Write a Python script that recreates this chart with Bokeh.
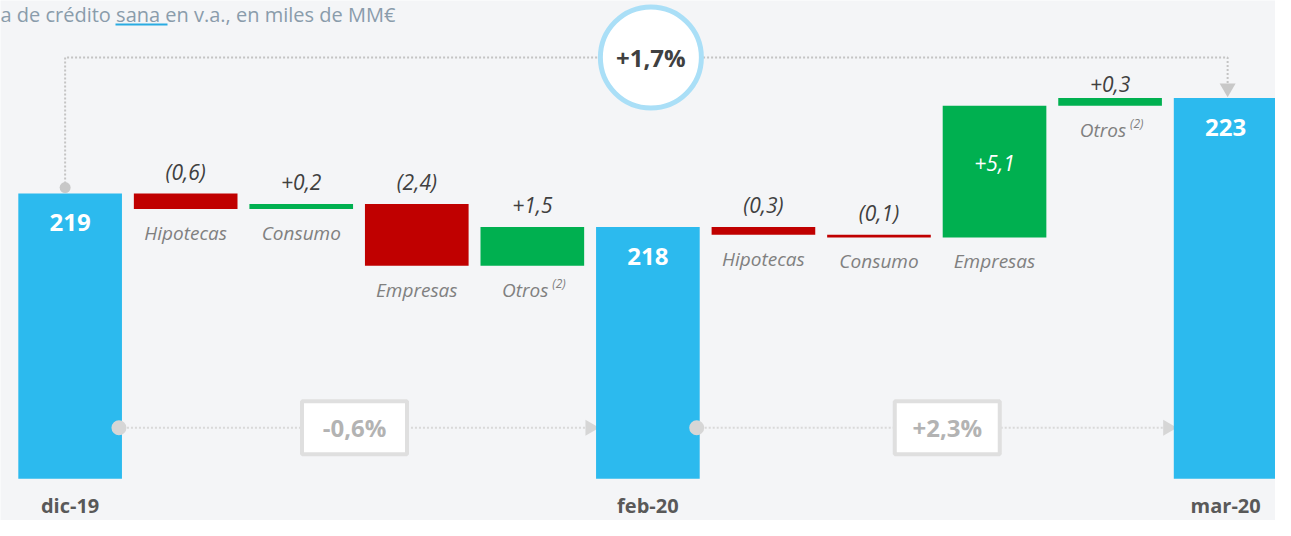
import math
from bokeh.plotting import figure
from bokeh.models import Range1d
from bokeh.core.properties import value
from bokeh.embed import file_html
from bokeh.resources import INLINE

# ---------------- data ----------------
categories = ["dic-19", "Hipotecas", "Consumo", "Empresas", "Otros",
              "feb-20", "Hipotecas", "Consumo", "Empresas", "Otros", "mar-20"]
kinds = ["total", "delta", "delta", "delta", "delta", "total",
         "delta", "delta", "delta", "delta", "total"]
start_value = 219.0
deltas = [-0.6, 0.2, -2.4, 1.5, -0.3, -0.1, 5.1, 0.3]
total_labels = ["219", "218", "223"]
period_growth = ["-0,6%", "+2,3%"]
overall_growth = "+1,7%"
title_parts = ["a de crédito ", "sana ", "en v.a., en miles de MM€"]
footnote_mark = "(2)"

# ---------------- style / layout ----------------
BG = "#f4f5f7"
BLUE = "#2cbaee"
RED = "#c00000"
GREEN = "#00b050"
DARK = "#404040"
GREY_LBL = "#808080"
FONT = "Open Sans"

W, H = 1275, 520
X0, X1 = -0.6026, 10.4316
Y0, Y1 = 206.331, 226.481
BASE = 207.95
BAR_W = 0.897
px_x = (X1 - X0) / W      # data units per screen px (x)
px_y = (Y1 - Y0) / H      # data units per screen px (y)

p = figure(width=W, height=H, x_range=Range1d(X0, X1), y_range=Range1d(Y0, Y1),
           output_backend="svg", toolbar_location=None, min_border=0,
           background_fill_color=BG, border_fill_color=BG, outline_line_color=None)
p.axis.visible = False
p.grid.visible = False

# waterfall geometry from data
xs = list(range(len(categories)))
tops, bottoms, colors, delta_vals = [], [], [], []
level = start_value
di = 0
for k in kinds:
    if k == "total":
        tops.append(level); bottoms.append(BASE); colors.append(BLUE); delta_vals.append(None)
    else:
        d = deltas[di]; di += 1
        new = level + d
        tops.append(max(level, new)); bottoms.append(min(level, new))
        colors.append(GREEN if d > 0 else RED); delta_vals.append(d)
        level = new

total_idx = [i for i, k in enumerate(kinds) if k == "total"]
delta_idx = [i for i, k in enumerate(kinds) if k == "delta"]

# ---- connectors (lines behind bars) ----
dot_col = "#d6d6d6"
top_level = Y1 - 57 * px_y
i_first, i_mid, i_last = total_idx
xl = i_first - 5 * px_x
xr = i_last + 2 * px_x
p.line([xl, xl, xr, xr], [tops[i_first] + 6 * px_y, top_level, top_level, tops[i_last] + 12 * px_y],
       line_color="#c4c4c4", line_width=2, line_dash="2 2")
p.scatter([xr], [tops[i_last] + 10 * px_y], size=16, marker="inverted_triangle",
          fill_color="#c8c8c8", line_color=None)

bottom_level = BASE + 51 * px_y
conn = []
for n, (a, b) in enumerate([(i_first, i_mid), (i_mid, i_last)]):
    x_start = a + BAR_W / 2 - 3 * px_x
    x_end = b - BAR_W / 2 - 6 * px_x
    conn.append((x_start, x_end))
    p.line([x_start, x_end], [bottom_level, bottom_level], line_color="#d9d9d9",
           line_width=2, line_dash="2 2")
    p.scatter([x_end], [bottom_level], size=16, marker="triangle", angle=-math.pi / 2,
              fill_color=dot_col, line_color=None)

# ---- bars ----
p.vbar(x=xs, width=BAR_W, top=tops, bottom=bottoms, fill_color=colors, line_color=None)

# ---- dots & boxes on top ----
p.scatter([xl], [tops[i_first] + 6 * px_y], size=11, marker="circle", fill_color="#c8c8c8", line_color=None)
for n, (x_start, x_end) in enumerate(conn):
    p.scatter([x_start], [bottom_level], size=15, marker="circle", fill_color=dot_col, line_color=None)
    bx = (x_start + x_end) / 2 + (15 * px_x if n == 1 else 0)
    p.rect([bx], [bottom_level], width=105, height=53, width_units="screen", height_units="screen",
           fill_color="white", line_color="#dfdfdf", line_width=4)
    p.text([bx], [bottom_level], text=[period_growth[n]], text_font=value(FONT),
           text_font_style="bold", text_font_size="24px", text_color="#b3b3b3",
           text_align="center", text_baseline="middle")

# ---- circle for overall growth ----
cx = (i_first + i_last) / 2 + 3 * px_x
p.scatter([cx], [top_level], size=101, marker="circle", fill_color="white",
          line_color="#aadff7", line_width=5)
p.text([cx], [top_level], text=[overall_growth], text_font=value(FONT), text_font_style="bold",
       text_font_size="24px", text_color=DARK, text_align="center", text_baseline="middle")

# ---- total labels ----
p.text([xs[i] for i in total_idx], [tops[i] for i in total_idx], text=total_labels,
       text_font=value(FONT), text_font_style="bold", text_font_size="24px",
       text_color="white", text_align="center", text_baseline="middle", y_offset=29)
p.text([xs[i] for i in total_idx], [BASE] * len(total_idx), text=[categories[i] for i in total_idx],
       text_font=value(FONT), text_font_style="bold", text_font_size="20px",
       text_color="#595959", text_align="center", text_baseline="middle", y_offset=27)

# ---- delta labels ----
def fmt(d):
    s = f"{abs(d):.1f}".replace(".", ",")
    return f"({s})" if d < 0 else f"+{s}"

big = max(abs(d) for d in deltas)
for i in delta_idx:
    d = delta_vals[i]
    if abs(d) == big:
        p.text([xs[i]], [tops[i]], text=[fmt(d)], text_font=value(FONT), text_font_style="italic",
               text_font_size="21px", text_color="white", text_align="center",
               text_baseline="middle", y_offset=57)
    else:
        off = -14 if i == delta_idx[-1] else -22
        p.text([xs[i]], [tops[i]], text=[fmt(d)], text_font=value(FONT), text_font_style="italic",
               text_font_size="21px", text_color=DARK, text_align="center",
               text_baseline="middle", y_offset=off)
    name = categories[i]
    if name == "Otros":
        p.text([xs[i]], [bottoms[i]], text=[name], text_font=value(FONT), text_font_style="italic",
               text_font_size="19px", text_color=GREY_LBL, text_align="right",
               text_baseline="middle", y_offset=24, x_offset=16)
        p.text([xs[i]], [bottoms[i]], text=[footnote_mark], text_font=value(FONT),
               text_font_style="italic", text_font_size="12px", text_color=GREY_LBL,
               text_align="left", text_baseline="middle", y_offset=18, x_offset=20)
    else:
        p.text([xs[i]], [bottoms[i]], text=[name], text_font=value(FONT), text_font_style="italic",
               text_font_size="19px", text_color=GREY_LBL, text_align="center",
               text_baseline="middle", y_offset=24)

# ---- title ----
title_full = "".join(title_parts)
p.text([X0], [Y1], text=[title_full], text_font=value(FONT), text_font_size="20px",
       text_color="#8a9cab", text_align="left", text_baseline="middle", y_offset=14)
# underline under "sana " (position estimated from Open Sans 20px metrics)
u_start = 115
u_end = 167
p.segment([X0 + u_start * px_x], [Y1 - 24 * px_y], [X0 + u_end * px_x], [Y1 - 24 * px_y],
          line_color="#29abe2", line_width=2)

open("out.html", "w").write(file_html(p, INLINE))
